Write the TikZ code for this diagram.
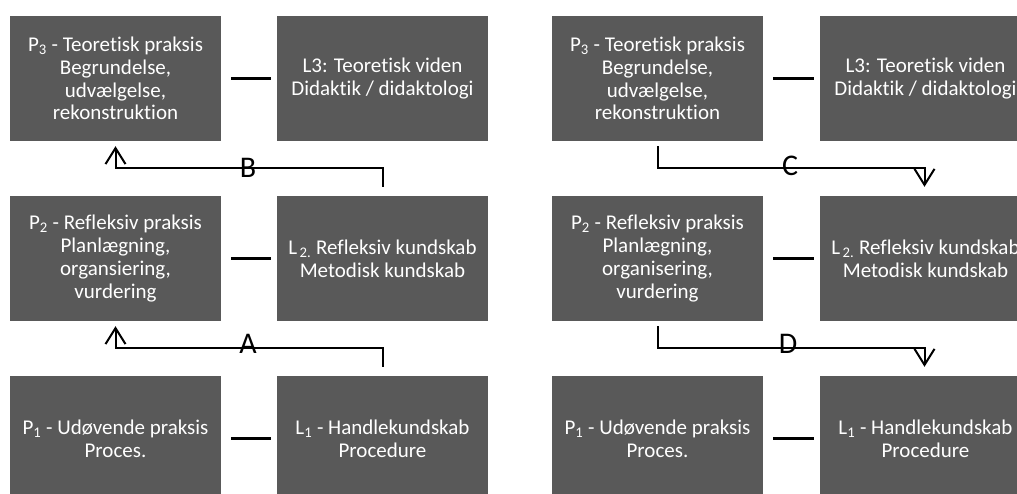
\documentclass[tikz,border=0pt]{standalone}
\usepackage{fontspec}
\setmainfont{Carlito}[RawFeature={-liga;-clig;-calt}]
\usetikzlibrary{arrows.meta}
\definecolor{boxgrey}{RGB}{89,89,89}
\tikzset{
  box/.style={fill=boxgrey, draw=none, text=white, minimum width=211pt, minimum height=125pt,
    inner sep=0pt, align=center, font=\fontsize{21}{22.8}\selectfont},
  link/.style={line width=2.5pt},
  flow/.style={line width=2pt, -{Straight Barb[length=16pt,width=20pt,line width=2pt]}},
  lbl/.style={font=\fontsize{30}{32}\selectfont, inner sep=0pt}
}
\begin{document}
\begin{tikzpicture}[x=1pt,y=-1pt]
\useasboundingbox (0,0) rectangle (1017,494);
\clip (0,0) rectangle (1017,494);
% left panel
\node[box] (p3) at (115.5,78.5) {P\textsubscript{3} - Teoretisk praksis\\Begrundelse,\\udvælgelse,\\rekonstruktion};
\node[box] (l3) at (382.5,78.5) {L3: Teoretisk viden\\Didaktik / didaktologi};
\node[box] (p2) at (115.5,258.5) {P\textsubscript{2} - Refleksiv praksis\\Planlægning,\\organsiering,\\vurdering};
\node[box] (l2) at (382.5,258.5) {L\textsubscript{\,2.} Refleksiv kundskab\\Metodisk kundskab};
\node[box] (p1) at (115.5,438.5) {P\textsubscript{1} - Udøvende praksis\\Proces.};
\node[box] (l1) at (382.5,438.5) {L\textsubscript{1} - Handlekundskab\\Procedure};
% right panel
\node[box] (q3) at (657.5,78.5) {P\textsubscript{3} - Teoretisk praksis\\Begrundelse,\\udvælgelse,\\rekonstruktion};
\node[box] (m3) at (925.5,78.5) {L3: Teoretisk viden\\Didaktik / didaktologi};
\node[box] (q2) at (657.5,258.5) {P\textsubscript{2} - Refleksiv praksis\\Planlægning,\\organisering,\\vurdering};
\node[box] (m2) at (925.5,258.5) {L\textsubscript{\,2.} Refleksiv kundskab\\Metodisk kundskab};
\node[box] (q1) at (657.5,438.5) {P\textsubscript{1} - Udøvende praksis\\Proces.};
\node[box] (m1) at (925.5,438.5) {L\textsubscript{1} - Handlekundskab\\Procedure};
% box links
\draw[link] ([xshift=10pt]p3.east) -- ([xshift=-6pt]l3.west);
\draw[link] ([xshift=10pt]p2.east) -- ([xshift=-6pt]l2.west);
\draw[link] ([xshift=10pt]p1.east) -- ([xshift=-6pt]l1.west);
\draw[link] ([xshift=10pt]q3.east) -- ([xshift=-6pt]m3.west);
\draw[link] ([xshift=10pt]q2.east) -- ([xshift=-6pt]m2.west);
\draw[link] ([xshift=10pt]q1.east) -- ([xshift=-6pt]m1.west);
% flows
\draw[flow] ([yshift=9pt]l2.north) -- ++(0,-19) -| ([yshift=-5pt]p3.south);
\draw[flow] ([yshift=9pt]l1.north) -- ++(0,-19) -| ([yshift=-5pt]p2.south);
\draw[flow] ([yshift=-5pt]q3.south) -- ++(0,22) -| ([xshift=-1pt,yshift=9pt]m2.north);
\draw[flow] ([yshift=-5pt]q2.south) -- ++(0,22) -| ([xshift=-1pt,yshift=9pt]m1.north);
\node[lbl] (lb) at (248,167.5) {B};
\node[lbl] (la) at (248,344) {A};
\node[lbl] (lc) at (790,166) {C};
\node[lbl] (ld) at (788,344) {D};
\end{tikzpicture}
\end{document}
